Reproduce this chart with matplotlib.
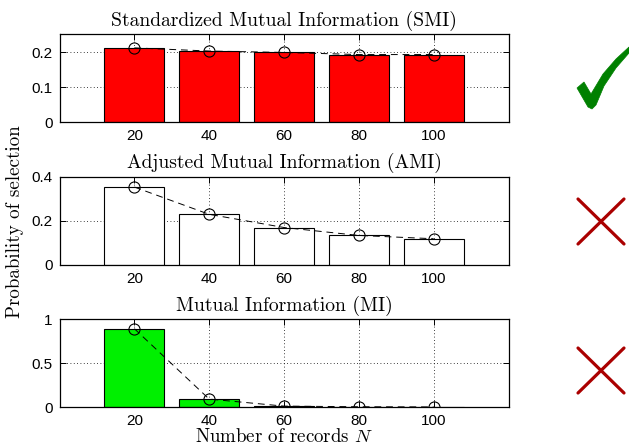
import numpy as np
import matplotlib
matplotlib.use('Agg')
import matplotlib.pyplot as plt
from matplotlib.patches import Polygon
from matplotlib.lines import Line2D

plt.rcParams['mathtext.fontset'] = 'cm'
plt.rcParams['axes.unicode_minus'] = False

n_records = [20, 40, 60, 80, 100]

smi_prob = [0.212, 0.203, 0.199, 0.193, 0.193]
ami_prob = [0.353, 0.229, 0.169, 0.133, 0.118]
mi_prob = [0.89, 0.09, 0.01, 0.003, 0.001]

titles = ['Standardized Mutual Information (SMI)',
          'Adjusted Mutual Information (AMI)',
          'Mutual Information (MI)']
ylims = [0.25, 0.4, 1.0]
yticks = [[0, 0.1, 0.2], [0, 0.2, 0.4], [0, 0.5, 1]]
ytick_labels = [['0', '0.1', '0.2'], ['0', '0.2', '0.4'], ['0', '0.5', '1']]
colors = ['#ff0000', 'white', '#00f000']

W, H = 629, 448
fig = plt.figure(figsize=(W / 100, H / 100), dpi=100)
fig.set_facecolor('white')

def px(x, y):
    return (x / W, 1 - y / H)

tops = [34.5, 176.7, 319]
ax_h = 88
serif = 'cmr10'

axes = []
for i, (vals, title) in enumerate(zip([smi_prob, ami_prob, mi_prob], titles)):
    top = tops[i]
    ax = fig.add_axes([59.5 / W, 1 - (top + ax_h) / H, 449 / W, ax_h / H])
    axes.append(ax)
    ax.bar(n_records, vals, width=16, color=colors[i], edgecolor='black', linewidth=0.8, zorder=2)
    ax.plot(n_records, vals, color='black', linestyle=(0, (7, 5)), linewidth=0.7,
            marker='o', markersize=8, markerfacecolor='none', markeredgewidth=0.8, zorder=3)
    ax.set_xlim(0, 120)
    ax.set_ylim(0, ylims[i])
    ax.set_xticks(n_records)
    ax.set_xticklabels([str(n) for n in n_records], fontsize=11, family='Liberation Sans')
    ax.set_yticks(yticks[i])
    ax.set_yticklabels(ytick_labels[i], fontsize=11, family='Liberation Sans')
    ax.grid(True, linestyle=(0, (1, 3)), color='black', linewidth=0.6, zorder=0)
    ax.set_axisbelow(True)
    ax.tick_params(direction='in', length=4, width=0.7, top=True, right=True, pad=5)
    for s in ax.spines.values():
        s.set_linewidth(0.9)
    ax.set_title(title, fontsize=14.1, family=serif, pad=6)

axes[2].set_xlabel('Number of records $N$', fontsize=13.6, family=serif, labelpad=0)
fig.text(15 / W, 1 - 222 / H, 'Probability of selection', rotation=90, ha='center', va='center',
         fontsize=13.7, family=serif)

# check mark
check_px = [(577, 88), (584, 82), (591, 94), (603, 74), (616, 59), (629, 47), (629, 53),
            (616, 68), (604, 86), (596, 105), (592, 109), (588, 107)]
fig.patches.append(Polygon([px(x, y) for x, y in check_px], closed=True,
                           transform=fig.transFigure, facecolor='#008000', edgecolor='#008000',
                           linewidth=0.5))

# crosses
for y0, y1 in [(199, 244), (348, 393)]:
    for xa, xb in [(578, 624), (624, 578)]:
        x0, yy0 = px(xa, y0)
        x1, yy1 = px(xb, y1)
        fig.lines.append(Line2D([x0, x1], [yy0, yy1], transform=fig.transFigure,
                                color='#aa0000', linewidth=2.3, solid_capstyle='round'))

fig.savefig('out.png', dpi=100)
